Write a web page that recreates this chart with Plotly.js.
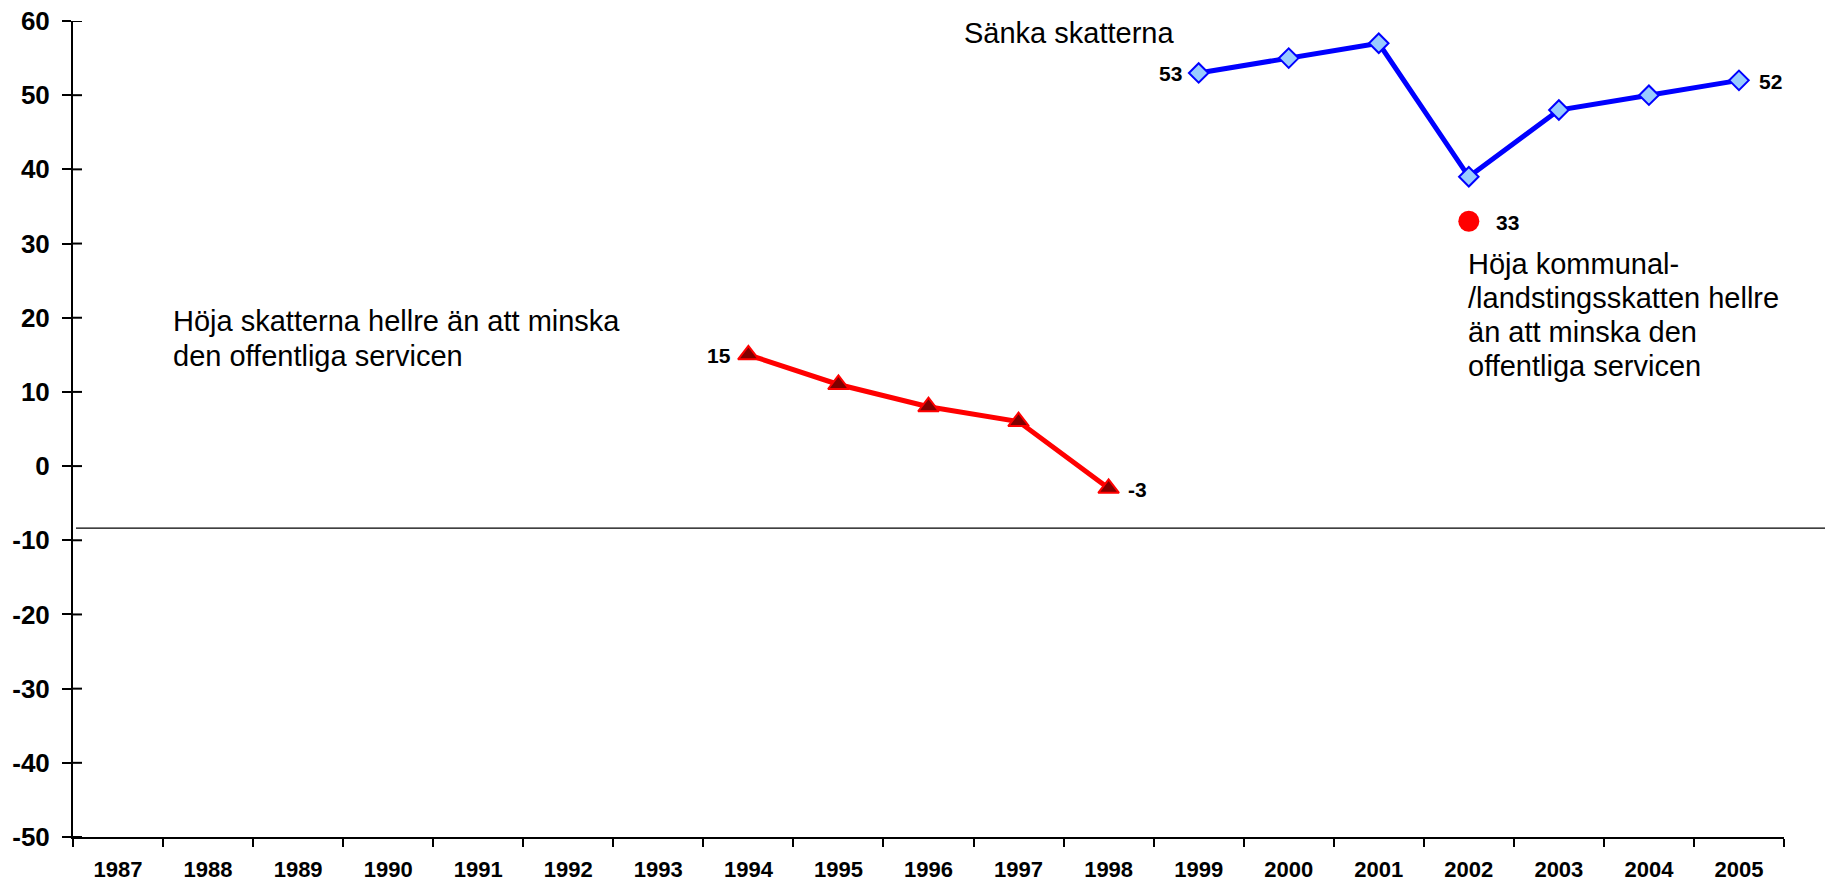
<!DOCTYPE html>
<html>
<head>
<meta charset="utf-8">
<script src="https://cdn.plot.ly/plotly-3.0.1.min.js"></script>
<style>
  html, body { margin: 0; padding: 0; background: #ffffff; }
  #chart { width: 1825px; height: 882px; }
</style>
</head>
<body>
<div id="chart"></div>
<script>
// ---- data ----
const years = ["1987","1988","1989","1990","1991","1992","1993","1994","1995","1996","1997","1998","1999","2000","2001","2002","2003","2004","2005"];

const raiseYears = ["1994","1995","1996","1997","1998"];
const raiseValues = [15, 11, 8, 6, -3];

const cutYears = ["1999","2000","2001","2002","2003","2004","2005"];
const cutValues = [53, 55, 57, 39, 48, 50, 52];

const municipalYears = ["2002"];
const municipalValues = [33];

const referenceLineValue = -8.35;

const yTickValues = [-50, -40, -30, -20, -10, 0, 10, 20, 30, 40, 50, 60];
const yTickLabels = ["-50", "-40", "-30", "-20", "-10", "0", "10", "20", "30", "40", "50", "60"];

const labelSanka = "Sänka skatterna";
const labelRaiseLines = ["Höja skatterna hellre än att minska", "den offentliga servicen"];
const labelMunicipalLines = ["Höja kommunal-", "/landstingsskatten hellre", "än att minska den", "offentliga servicen"];

const yRange = [-50, 60];

// ---- layout helpers (pixel -> paper) ----
const W = 1825, H = 882;
const M = { l: 73, r: 41, t: 21, b: 45 };
const plotW = W - M.l - M.r, plotH = H - M.t - M.b;
const px = x => (x - M.l) / plotW;
const py = y => (H - M.b - y) / plotH;
const valToPaperY = v => (v - yRange[0]) / (yRange[1] - yRange[0]);
const catIndex = c => years.indexOf(c);

const FONT = "Liberation Sans, Arial, sans-serif";

const traces = [
  {
    x: raiseYears, y: raiseValues, type: "scatter", mode: "lines+markers",
    line: { color: "#ff0000", width: 5 },
    marker: { symbol: "triangle-up", size: 18, color: "#800000", line: { color: "#ff0000", width: 2 } },
    cliponaxis: false, hoverinfo: "x+y"
  },
  {
    x: cutYears, y: cutValues, type: "scatter", mode: "lines+markers",
    line: { color: "#0000ff", width: 5 },
    marker: { symbol: "diamond", size: 15, color: "#99ccff", line: { color: "#0000ff", width: 2 } },
    cliponaxis: false, hoverinfo: "x+y"
  },
  {
    x: municipalYears, y: municipalValues, type: "scatter", mode: "markers",
    marker: { symbol: "circle", size: 21, color: "#ff0000" },
    cliponaxis: false, hoverinfo: "x+y"
  }
];

const numFont = { family: FONT, size: 21, color: "#000", weight: "bold" };
const txtFont = { family: FONT, size: 29, color: "#000" };

const annotations = [
  { x: catIndex(raiseYears[0]), y: raiseValues[0], text: String(raiseValues[0]), xanchor: "right", xshift: -15 },
  { x: catIndex(raiseYears[raiseYears.length - 1]), y: raiseValues[raiseValues.length - 1], text: String(raiseValues[raiseValues.length - 1]), xanchor: "left", xshift: 17 },
  { x: catIndex(cutYears[0]), y: cutValues[0], text: String(cutValues[0]), xanchor: "right", xshift: -15 },
  { x: catIndex(cutYears[cutYears.length - 1]), y: cutValues[cutValues.length - 1], text: String(cutValues[cutValues.length - 1]), xanchor: "left", xshift: 18 },
  { x: catIndex(municipalYears[0]), y: municipalValues[0], text: String(municipalValues[0]), xanchor: "left", xshift: 25 }
].map(a => Object.assign({ xref: "x", yref: "y", showarrow: false, font: numFont, yanchor: "middle", yshift: -1 }, a));

annotations.push({ xref: "paper", yref: "paper", x: px(962), y: py(33), xanchor: "left", yanchor: "middle", text: labelSanka, showarrow: false, font: txtFont });
labelRaiseLines.forEach((t, i) => annotations.push({ xref: "paper", yref: "paper", x: px(171), y: py(321 + i * 34.5), xanchor: "left", yanchor: "middle", text: t, showarrow: false, font: txtFont }));
labelMunicipalLines.forEach((t, i) => annotations.push({ xref: "paper", yref: "paper", x: px(1466), y: py(264 + i * 34), xanchor: "left", yanchor: "middle", text: t, showarrow: false, font: txtFont }));

// short tick stubs on the inner side of the y axis (ticks cross the axis in the original)
const innerTicks = yTickValues.map(v => ({
  type: "line", xref: "paper", yref: "y", x0: 0, x1: px(M.l + 9), y0: v, y1: v,
  line: { color: "#000", width: 2 }
}));

const layout = {
  width: W, height: H,
  margin: M,
  paper_bgcolor: "#ffffff", plot_bgcolor: "#ffffff",
  showlegend: false,
  font: { family: FONT, color: "#000" },
  xaxis: {
    type: "category", categoryorder: "array", categoryarray: years,
    range: [-0.5, years.length - 0.5],
    showgrid: false, zeroline: false,
    showline: true, linecolor: "#000", linewidth: 2,
    ticks: "outside", ticklen: 8, tickwidth: 2, tickcolor: "#000",
    tickson: "boundaries",
    tickfont: { family: FONT, size: 22, color: "#000", weight: "bold" },
    ticklabelstandoff: 12,
    fixedrange: true
  },
  yaxis: {
    range: yRange, tickmode: "array", tickvals: yTickValues, ticktext: yTickLabels,
    showgrid: false, zeroline: false,
    showline: true, linecolor: "#000", linewidth: 2,
    ticks: "outside", ticklen: 9, tickwidth: 2, tickcolor: "#000",
    tickfont: { family: FONT, size: 26, color: "#000", weight: "bold" },
    ticklabelstandoff: 7,
    fixedrange: true
  },
  shapes: [
    { type: "line", xref: "paper", yref: "paper",
      x0: px(76), x1: px(W), y0: valToPaperY(referenceLineValue), y1: valToPaperY(referenceLineValue),
      line: { color: "#000", width: 1.3 } }
  ].concat(innerTicks),
  annotations: annotations
};

Plotly.newPlot("chart", traces, layout, { displayModeBar: false, staticPlot: true });
</script>
</body>
</html>
